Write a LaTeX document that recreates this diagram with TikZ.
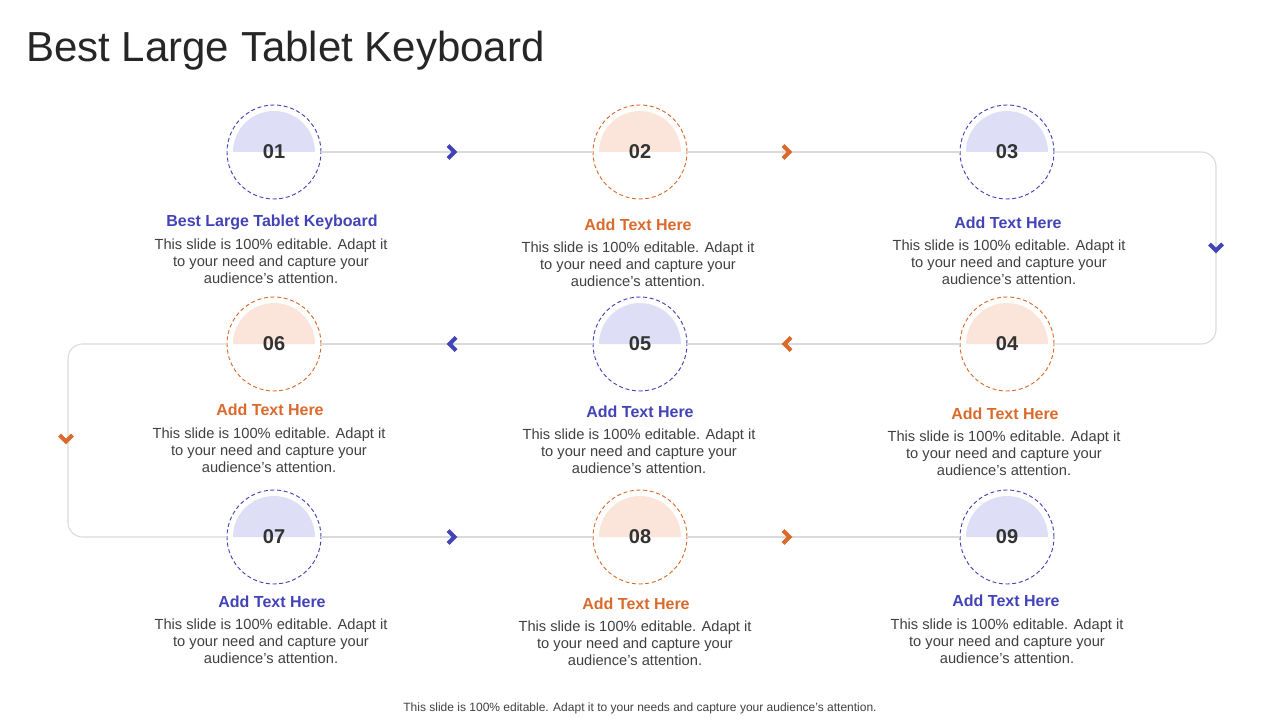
\documentclass[tikz,border=0pt]{standalone}
\usepackage{fontspec}
\setmainfont{Liberation Sans}
\usetikzlibrary{positioning}

\definecolor{stepblue}{HTML}{4343B8}
\definecolor{steporange}{HTML}{DA6A2C}
\definecolor{paleblue}{HTML}{DEDEF7}
\definecolor{paleorange}{HTML}{FBE4DA}
\definecolor{linegray}{HTML}{DADADA}
\definecolor{bodygray}{HTML}{404040}
\definecolor{titlegray}{HTML}{262626}
\definecolor{numgray}{HTML}{333333}

\tikzset{
  numcirc/.style={circle, dashed, dash pattern=on 3pt off 2pt, line width=0.7pt,
    minimum size=70.5pt, inner sep=0pt, text=numgray,
    font=\bfseries\fontsize{15}{18}\selectfont},
  halfblue/.style={numcirc, draw=stepblue,
    path picture={\fill[paleblue] ([xshift=-30.75pt]path picture bounding box.center)
      arc[start angle=180, end angle=0, radius=30.75pt] -- cycle;}},
  halforange/.style={numcirc, draw=steporange,
    path picture={\fill[paleorange] ([xshift=-30.75pt]path picture bounding box.center)
      arc[start angle=180, end angle=0, radius=30.75pt] -- cycle;}},
  head/.style={font=\bfseries\fontsize{12}{14}\selectfont, inner sep=0pt},
  body/.style={font=\fontsize{11}{12.8}\selectfont, text=bodygray, align=center, inner sep=0pt},
  link/.style={draw=linegray, line width=0.8pt},
  chev/.pic={\draw[line width=3pt, line join=miter] (-4,-6.5) -- (2.5,0) -- (-4,6.5);}
}

\begin{document}
\begin{tikzpicture}[x=0.75pt, y=-0.75pt]
\useasboundingbox (0,0) rectangle (1280,720);

\node[anchor=west, inner sep=0pt, text=titlegray, font=\fontsize{31.5}{36}\selectfont] (title) at (26,51) {Best Large Tablet Keyboard};

% steps
\node[halfblue] (c1) at (274,152) {01};
\node[halforange] (c2) at (640,152) {02};
\node[halfblue] (c3) at (1007,152) {03};
\node[halforange] (c4) at (1007,344) {04};
\node[halfblue] (c5) at (640,344) {05};
\node[halforange] (c6) at (274,344) {06};
\node[halfblue] (c7) at (274,537) {07};
\node[halforange] (c8) at (640,537) {08};
\node[halfblue] (c9) at (1007,537) {09};

% corners of the path
\coordinate (r1) at (1216,152);
\coordinate (r2) at (1216,344);
\coordinate (l1) at (68,344);
\coordinate (l2) at (68,537);

\draw[link] (c1) -- (c2);
\draw[link] (c2) -- (c3);
\draw[link, rounded corners=11pt] (c3) -- (r1) -- (r2) -- (c4);
\draw[link] (c4) -- (c5);
\draw[link] (c5) -- (c6);
\draw[link, rounded corners=11pt] (c6) -- (l1) -- (l2) -- (c7);
\draw[link] (c7) -- (c8);
\draw[link] (c8) -- (c9);

% arrows
\pic[stepblue] at (452,152) {chev};
\pic[steporange] at (787,152) {chev};
\pic[stepblue, rotate=-90] at (1216,248) {chev};
\pic[steporange, rotate=180] at (787,344) {chev};
\pic[stepblue, rotate=180] at (452,344) {chev};
\pic[steporange, rotate=-90] at (66,439) {chev};
\pic[stepblue] at (452,537) {chev};
\pic[steporange] at (787,537) {chev};

% texts
\node[head, text=stepblue] (h1) at (272,222) {Best Large Tablet Keyboard};
\node[body] (b1) at (271,261) {This slide is 100\% editable. Adapt it\\to your need and capture your\\audience's attention.};
\node[head, text=steporange] (h2) at (638,225) {Add Text Here};
\node[body] (b2) at (638,264) {This slide is 100\% editable. Adapt it\\to your need and capture your\\audience's attention.};
\node[head, text=stepblue] (h3) at (1008,223) {Add Text Here};
\node[body] (b3) at (1009,262) {This slide is 100\% editable. Adapt it\\to your need and capture your\\audience's attention.};

\node[head, text=steporange] (h4) at (1005,414) {Add Text Here};
\node[body] (b4) at (1004,453) {This slide is 100\% editable. Adapt it\\to your need and capture your\\audience's attention.};
\node[head, text=stepblue] (h5) at (640,412) {Add Text Here};
\node[body] (b5) at (639,451) {This slide is 100\% editable. Adapt it\\to your need and capture your\\audience's attention.};
\node[head, text=steporange] (h6) at (270,410) {Add Text Here};
\node[body] (b6) at (269,450) {This slide is 100\% editable. Adapt it\\to your need and capture your\\audience's attention.};

\node[head, text=stepblue] (h7) at (272,602) {Add Text Here};
\node[body] (b7) at (271,641) {This slide is 100\% editable. Adapt it\\to your need and capture your\\audience's attention.};
\node[head, text=steporange] (h8) at (636,604) {Add Text Here};
\node[body] (b8) at (635,643) {This slide is 100\% editable. Adapt it\\to your need and capture your\\audience's attention.};
\node[head, text=stepblue] (h9) at (1006,601) {Add Text Here};
\node[body] (b9) at (1007,641) {This slide is 100\% editable. Adapt it\\to your need and capture your\\audience's attention.};

\node[inner sep=0pt, text=bodygray, font=\fontsize{9}{11}\selectfont] (foot) at (640,708) {This slide is 100\% editable. Adapt it to your needs and capture your audience's attention.};
\end{tikzpicture}
\end{document}
